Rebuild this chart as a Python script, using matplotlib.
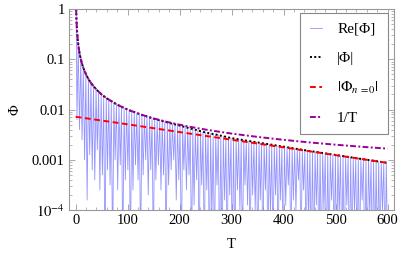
import numpy as np
import matplotlib
matplotlib.use("Agg")
import matplotlib.pyplot as plt
from matplotlib.ticker import FixedLocator, FixedFormatter, LogLocator, NullFormatter, MultipleLocator

plt.rcParams['font.family'] = ['Liberation Serif', 'DejaVu Serif']
plt.rcParams['mathtext.fontset'] = 'stix'

# ---- data ----
T_inv = [1, 1.25, 1.5, 2, 2.5, 3, 4, 5, 6, 8, 10, 13, 16, 20, 25, 30, 40, 50, 60, 80,
         100, 125, 150, 175, 200, 225, 250, 275, 300, 350, 400, 450, 500, 550, 600]
inv_T = [1.0, 0.8, 0.667, 0.5, 0.4, 0.333, 0.25, 0.2, 0.167, 0.125, 0.1, 0.077, 0.0625,
         0.05, 0.04, 0.0333, 0.025, 0.02, 0.0167, 0.0125, 0.01, 0.008, 0.00667, 0.00571,
         0.005, 0.00444, 0.004, 0.00364, 0.00333, 0.00286, 0.0025, 0.00222, 0.002,
         0.00182, 0.00167]
abs_phi = [1.0, 0.8, 0.667, 0.5, 0.4, 0.333, 0.25, 0.2, 0.167, 0.125, 0.1, 0.077, 0.0625,
           0.05, 0.04, 0.0333, 0.025, 0.02, 0.0167, 0.0125, 0.01, 0.008, 0.0066, 0.0056,
           0.0048, 0.0041, 0.0035, 0.0031, 0.0027, 0.00222, 0.00183, 0.0015, 0.00125,
           0.00104, 0.00087]
T_n0 = [0, 100, 200, 300, 400, 500, 600]
phi_n0 = [0.0072, 0.00509, 0.00357, 0.00251, 0.00177, 0.00124, 0.00087]

# log10 depth of each dip of Re[Phi] (-5 = below the axis)
dip_exp = [-2.2, -2.4, -2.6, -3.0, -3.8, -2.9, -3.2, -3.4, -2.8, -3.6,
           -3.3, -5, -3.2, -3.5, -5, -3.0, -3.6, -3.1, -5, -3.4,
           -3.2, -5, -3.6, -3.1, -3.4, -5, -3.3, -3.0, -3.7, -3.2,
           -5, -3.4, -3.1, -3.6, -3.3, -5, -3.5, -3.2, -3.0, -3.8,
           -3.4, -5, -3.2, -3.6, -3.3, -5, -3.9, -3.4, -5, -3.5,
           -5, -3.6, -5, -4.2, -5, -3.5, -5, -5, -3.8, -5,
           -3.7, -5, -5, -3.6, -4.0, -5, -3.5, -3.9, -5, -3.7,
           -4.0, -5, -3.8, -5, -3.6, -5, -4.1, -5, -3.7, -5,
           -3.8, -5, -3.9, -3.5, -5, -3.8, -4.0, -3.4, -5, -3.6,
           -5, -4.2, -5, -5, -3.9, -5, -5, -4.0, -5, -5,
           -3.8, -5, -5, -4.1, -5, -5, -3.9, -5, -5, -4.0,
           -5, -5, -3.8, -5, -5, -4.1, -5, -5, -5, -5, -4.0, -5, -5]

# ---- build the oscillating Re[Phi] line: peaks on |Phi|, dips from the list ----
n_dip = len(dip_exp)
T_dip = np.linspace(2.5, 600, n_dip)
half = (T_dip[1] - T_dip[0]) / 2
T_peak = np.concatenate([[1.0], T_dip + half])
T_peak = T_peak[T_peak <= 600]
peak_val = 10 ** np.interp(np.log10(T_peak), np.log10(T_inv), np.log10(abs_phi))
re_T, re_v = [], []
for i in range(len(T_peak)):
    re_T.append(T_peak[i]); re_v.append(peak_val[i])
    if i < n_dip:
        re_T.append(T_dip[i]); re_v.append(10 ** dip_exp[i])

fig = plt.figure(figsize=(4.15, 2.6), dpi=100)
ax = fig.add_axes([0.166, 0.192, 0.783, 0.773])

ax.plot(re_T, re_v, color='#8080ff', lw=0.6, alpha=0.85, label='Re[Φ]')
ax.plot(T_inv, abs_phi, color='black', lw=1.4, ls=(0, (1, 1.2)), label=r'|Φ|')
ax.plot(T_n0, phi_n0, color='#ff0000', lw=1.4, ls=(0, (3, 1.8)), label=r'$|\mathrm{\Phi}_{n\,=0}|$')
ax.plot(T_inv, inv_T, color='#990099', lw=1.4, ls=(0, (3, 1.2, 1, 1.2)), label='1/T')

ax.set_yscale('log')
ax.set_xlim(-13, 612)
ax.set_ylim(1e-4, 1)

ax.xaxis.set_major_locator(FixedLocator([0, 100, 200, 300, 400, 500, 600]))
ax.xaxis.set_minor_locator(MultipleLocator(20))
ax.yaxis.set_major_locator(FixedLocator([1e-4, 1e-3, 1e-2, 1e-1, 1]))
ax.yaxis.set_major_formatter(FixedFormatter([r'$10^{-4}$', '0.001', '0.01', '0.1', '1']))
ax.yaxis.set_minor_locator(LogLocator(base=10, subs=np.arange(2, 10)))
ax.yaxis.set_minor_formatter(NullFormatter())

for sp in ax.spines.values():
    sp.set_color('#999999')
    sp.set_linewidth(0.8)
ax.tick_params(which='both', direction='in', top=True, right=True, color='#999999',
               labelsize=10.5, labelcolor='black', pad=3)
ax.tick_params(which='major', length=4, width=0.6)
ax.tick_params(which='minor', length=2, width=0.5)

ax.set_xlabel('T', fontsize=10.5, labelpad=8)
ax.set_ylabel('Φ', fontsize=10.5)
ax.yaxis.set_label_coords(-0.145, 0.5)

leg = ax.legend(loc='upper right', bbox_to_anchor=(0.983, 0.98), fontsize=11,
                frameon=True, fancybox=False, edgecolor='#888888', framealpha=1,
                labelspacing=1.0, handlelength=0.8, handletextpad=1.0,
                borderpad=0.6, borderaxespad=0)
leg.get_frame().set_linewidth(0.8)

fig.savefig('out.png', dpi=100)
